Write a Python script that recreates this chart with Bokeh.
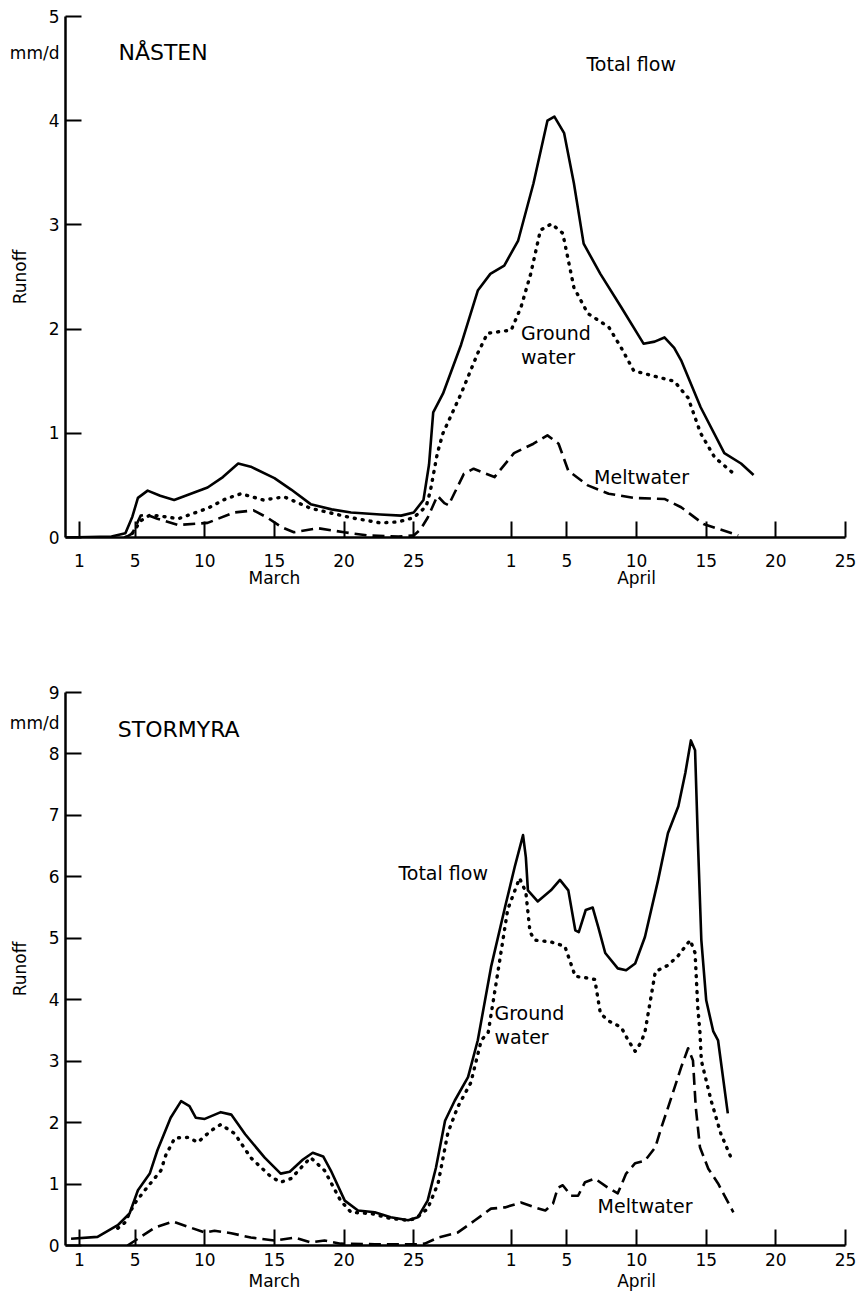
from bokeh.plotting import figure
from bokeh.models import FixedTicker, LinearAxis, Range1d, Label
from bokeh.layouts import column
from bokeh.embed import file_html
from bokeh.resources import INLINE

# Day index counted from end of February: 1 = 1 March, 32 = 1 April
tick_days = [1, 5, 10, 15, 20, 25, 32, 36, 41, 46, 51, 56]
tick_labels = ["1", "5", "10", "15", "20", "25", "1", "5", "10", "15", "20", "25"]
month_days = [15, 41]
month_labels = ["March", "April"]

# ---------------- NÅSTEN ----------------
nasten_total_day = [0.0, 3.3, 4.3, 4.8, 5.2, 5.9, 6.8, 7.8, 9.0, 10.2, 11.3, 12.4, 13.3, 15.0, 16.2,
                    17.6, 19.1, 20.5, 22.6, 24.1, 25.0, 25.7, 26.1, 26.4, 27.1, 28.4, 29.6, 30.5, 31.5,
                    32.5, 33.6, 34.6, 35.1, 35.8, 36.5, 37.2, 38.4, 39.9, 41.5, 42.3, 43.0, 43.7, 44.2,
                    45.6, 47.3, 48.5, 49.4]
nasten_total = [0.0, 0.01, 0.04, 0.20, 0.38, 0.45, 0.40, 0.36, 0.42, 0.48, 0.58, 0.71, 0.68, 0.57, 0.46,
                0.32, 0.27, 0.24, 0.22, 0.21, 0.24, 0.36, 0.70, 1.20, 1.38, 1.85, 2.37, 2.53, 2.61,
                2.85, 3.40, 4.00, 4.04, 3.88, 3.40, 2.82, 2.53, 2.21, 1.86, 1.88, 1.92, 1.82, 1.70,
                1.25, 0.81, 0.71, 0.60]

nasten_ground_day = [4.3, 4.8, 5.4, 6.0, 6.6, 8.1, 10.2, 11.5, 12.6, 14.2, 15.7, 17.6, 20.5, 22.6, 23.9,
                     25.0, 25.9, 26.2, 26.7, 27.1, 28.4, 29.6, 30.3, 32.0, 32.7, 33.4, 34.1, 34.9, 35.7,
                     36.1, 36.5, 37.5, 39.0, 39.9, 40.8, 42.5, 43.7, 44.7, 45.6, 46.6, 48.0]
nasten_ground = [0.0, 0.04, 0.16, 0.21, 0.21, 0.18, 0.28, 0.37, 0.42, 0.36, 0.39, 0.28, 0.19, 0.14, 0.15,
                 0.19, 0.30, 0.45, 0.81, 1.00, 1.38, 1.77, 1.96, 1.99, 2.21, 2.53, 2.95, 3.01, 2.92,
                 2.66, 2.40, 2.15, 2.02, 1.82, 1.60, 1.54, 1.50, 1.34, 1.00, 0.77, 0.61]

nasten_melt_day = [4.3, 4.8, 5.4, 5.8, 6.6, 8.1, 10.2, 12.1, 13.5, 14.5, 15.5, 16.4, 18.1, 20.0, 21.7,
                   23.9, 25.0, 25.5, 26.0, 26.7, 27.2, 27.5, 27.9, 28.6, 29.3, 30.8, 32.2, 33.6, 34.6,
                   35.4, 36.1, 37.5, 39.0, 40.8, 43.0, 44.2, 45.8, 48.3]
nasten_melt = [0.0, 0.04, 0.21, 0.22, 0.18, 0.12, 0.14, 0.24, 0.26, 0.19, 0.10, 0.05, 0.09, 0.05, 0.02,
               0.01, 0.02, 0.08, 0.19, 0.40, 0.33, 0.31, 0.42, 0.61, 0.66, 0.58, 0.81, 0.90, 0.98,
               0.90, 0.64, 0.50, 0.42, 0.38, 0.37, 0.29, 0.13, 0.02]

# ---------------- STORMYRA ----------------
stormyra_total_day = [0.4, 2.3, 3.75, 4.6, 5.2, 6.05, 6.6, 7.55, 8.3, 8.9, 9.35, 10.0, 11.15, 11.9, 12.9,
                      14.3, 15.45, 16.1, 17.05, 17.75, 18.5, 19.05, 20.05, 21.0, 22.2, 23.35, 24.6, 25.3,
                      26.0, 26.6, 27.25, 27.95, 28.9, 29.6, 30.55, 31.55, 32.25, 32.85, 33.05, 33.2, 33.9,
                      34.85, 35.5, 36.1, 36.6, 36.85, 37.35, 37.85, 38.25, 38.75, 39.65, 40.25, 40.9,
                      41.6, 42.55, 43.25, 44.0, 44.5, 44.9, 45.2, 45.4, 45.65, 46.0, 46.5, 46.85, 47.55]
stormyra_total = [0.11, 0.14, 0.33, 0.52, 0.90, 1.17, 1.55, 2.08, 2.35, 2.27, 2.08, 2.06, 2.17, 2.13, 1.81,
                  1.43, 1.17, 1.20, 1.40, 1.51, 1.45, 1.22, 0.73, 0.57, 0.54, 0.46, 0.41, 0.46,
                  0.73, 1.27, 2.03, 2.36, 2.74, 3.34, 4.53, 5.50, 6.16, 6.68, 6.32, 5.78, 5.60,
                  5.78, 5.95, 5.78, 5.13, 5.10, 5.46, 5.50, 5.18, 4.76, 4.51, 4.48, 4.59,
                  5.02, 5.95, 6.71, 7.15, 7.69, 8.22, 8.06, 6.60, 4.97, 3.99, 3.49, 3.34, 2.15]

stormyra_ground_day = [3.75, 4.25, 4.95, 5.7, 6.85, 7.2, 7.85, 8.8, 9.5, 10.45, 11.15, 12.15, 13.3, 14.75,
                       15.45, 16.2, 17.05, 17.6, 18.6, 19.75, 20.5, 21.95, 23.35, 24.6, 25.15, 26.0, 26.75,
                       27.45, 28.15, 29.1, 29.85, 30.35, 31.05, 31.75, 32.6, 33.05, 33.35, 33.7, 34.85,
                       35.85, 36.6, 37.3, 38.0, 38.4, 38.95, 39.9, 40.4, 40.9, 41.3, 41.6, 42.35, 43.25,
                       44.0, 44.85, 45.2, 45.4, 45.55, 45.65, 46.35, 47.05, 47.8]
stormyra_ground = [0.28, 0.37, 0.68, 0.90, 1.22, 1.47, 1.75, 1.76, 1.68, 1.87, 1.97, 1.82, 1.43, 1.12,
                   1.03, 1.09, 1.30, 1.43, 1.22, 0.73, 0.54, 0.52, 0.44, 0.41, 0.44, 0.60, 1.01,
                   1.83, 2.25, 2.65, 3.34, 3.47, 4.46, 5.47, 5.98, 5.75, 5.10, 4.97, 4.94,
                   4.87, 4.38, 4.36, 4.33, 3.78, 3.66, 3.55, 3.34, 3.16, 3.30, 3.47, 4.46, 4.56,
                   4.72, 4.97, 4.76, 3.86, 3.47, 3.01, 2.36, 1.82, 1.42]

stormyra_melt_day = [4.45, 5.2, 6.4, 7.7, 9.0, 10.0, 10.7, 11.9, 13.3, 15.05, 16.45, 17.6, 18.6, 19.75,
                     22.2, 25.3, 25.8, 26.75, 28.15, 29.4, 30.55, 31.55, 32.7, 33.7, 34.45, 35.0, 35.35,
                     35.7, 36.3, 36.8, 37.3, 38.0, 38.95, 39.65, 40.25, 40.9, 41.6, 42.35, 42.75, 43.5,
                     44.2, 44.7, 45.05, 45.25, 45.55, 46.15, 46.85, 47.95]
stormyra_melt = [0.0, 0.11, 0.29, 0.39, 0.29, 0.21, 0.24, 0.20, 0.13, 0.08, 0.13, 0.05, 0.08, 0.03,
                 0.02, 0.02, 0.03, 0.13, 0.21, 0.41, 0.60, 0.62, 0.70, 0.62, 0.57, 0.68, 0.94,
                 0.98, 0.81, 0.81, 1.03, 1.09, 0.94, 0.85, 1.17, 1.34, 1.38, 1.60, 1.90, 2.41,
                 2.90, 3.21, 3.01, 2.25, 1.60, 1.25, 1.01, 0.54]

FONT = "DejaVu Sans"
INK = "black"


def panel(ymax, height, top, bottom, tick_standoff, month_standoff,
          total_d, total_v, ground_d, ground_v, melt_d, melt_v,
          name, name_pos, unit_y, annotations):
    p = figure(width=860, height=height, x_range=Range1d(0, 56), y_range=Range1d(0, ymax),
               output_backend="svg", toolbar_location=None,
               min_border_left=65, min_border_right=15,
               min_border_top=top, min_border_bottom=bottom)
    p.outline_line_color = None
    p.grid.visible = False

    xa = p.xaxis[0]
    xa.ticker = FixedTicker(ticks=tick_days)
    xa.major_label_overrides = {d: lab for d, lab in zip(tick_days, tick_labels)}
    xa.major_tick_in = 16
    xa.major_tick_out = 0
    xa.minor_tick_line_color = None
    xa.major_label_standoff = tick_standoff
    xa.major_label_text_font = FONT
    xa.major_label_text_font_size = "17px"
    xa.major_label_text_color = INK
    xa.axis_line_width = 2.5
    xa.axis_line_color = INK
    xa.major_tick_line_width = 2
    xa.major_tick_line_color = INK

    month_axis = LinearAxis(ticker=FixedTicker(ticks=month_days),
                            major_label_overrides={d: lab for d, lab in zip(month_days, month_labels)},
                            axis_line_color=None, major_tick_line_color=None,
                            minor_tick_line_color=None, major_label_standoff=month_standoff,
                            major_tick_in=0, major_tick_out=0,
                            major_label_text_font=FONT, major_label_text_font_size="17px",
                            major_label_text_color=INK)
    p.add_layout(month_axis, "below")

    # y axis: numeric labels plus the unit "mm/d" as a label without a tick mark;
    # the tick marks themselves are drawn as (inward) minor ticks at the integers
    ya = p.yaxis[0]
    ints = list(range(0, ymax + 1))
    ya.ticker = FixedTicker(ticks=sorted(ints + [unit_y]), minor_ticks=ints)
    ya.major_label_overrides = {unit_y: "mm/d"}
    ya.major_tick_line_color = None
    ya.major_tick_in = 0
    ya.major_tick_out = 0
    ya.minor_tick_in = 16
    ya.minor_tick_out = 0
    ya.minor_tick_line_width = 2
    ya.minor_tick_line_color = INK
    ya.major_label_standoff = 6
    ya.major_label_text_font = FONT
    ya.major_label_text_font_size = "17px"
    ya.major_label_text_color = INK
    ya.axis_line_width = 2.5
    ya.axis_line_color = INK
    ya.axis_label = "Runoff"
    ya.axis_label_text_font = FONT
    ya.axis_label_text_font_size = "17px"
    ya.axis_label_text_font_style = "normal"
    ya.axis_label_text_color = INK
    ya.axis_label_standoff = -23

    p.line(total_d, total_v, line_color=INK, line_width=2.6, line_join="round")
    p.line(ground_d, ground_v, line_color=INK, line_width=3.4, line_dash="1 7",
           line_cap="round", line_join="round")
    p.line(melt_d, melt_v, line_color=INK, line_width=2.6, line_dash="12 6", line_join="round")

    p.add_layout(Label(x=name_pos[0], y=name_pos[1], text=name, text_font=FONT,
                       text_font_size="22px", text_baseline="middle", text_align="left",
                       text_color=INK))
    for (tx, ty, txt) in annotations:
        p.add_layout(Label(x=tx, y=ty, text=txt, text_font=FONT, text_font_size="19px",
                           text_baseline="middle", text_align="left", text_color=INK))
    return p


p1 = panel(5, 600, 16, 63, 16, -2,
           nasten_total_day, nasten_total, nasten_ground_day, nasten_ground,
           nasten_melt_day, nasten_melt,
           "NÅSTEN", (3.8, 4.65), 4.65,
           [(37.4, 4.54, "Total flow"), (32.7, 1.96, "Ground"), (32.7, 1.73, "water"),
            (37.95, 0.585, "Meltwater")])

p2 = panel(9, 696, 92, 51, 7, 2,
           stormyra_total_day, stormyra_total, stormyra_ground_day, stormyra_ground,
           stormyra_melt_day, stormyra_melt,
           "STORMYRA", (3.75, 8.39), 8.5,
           [(23.9, 6.06, "Total flow"), (30.8, 3.79, "Ground"), (30.8, 3.40, "water"),
            (38.2, 0.635, "Meltwater")])

layout = column(p1, p2, spacing=0)
open("out.html", "w").write(file_html(layout, INLINE))
